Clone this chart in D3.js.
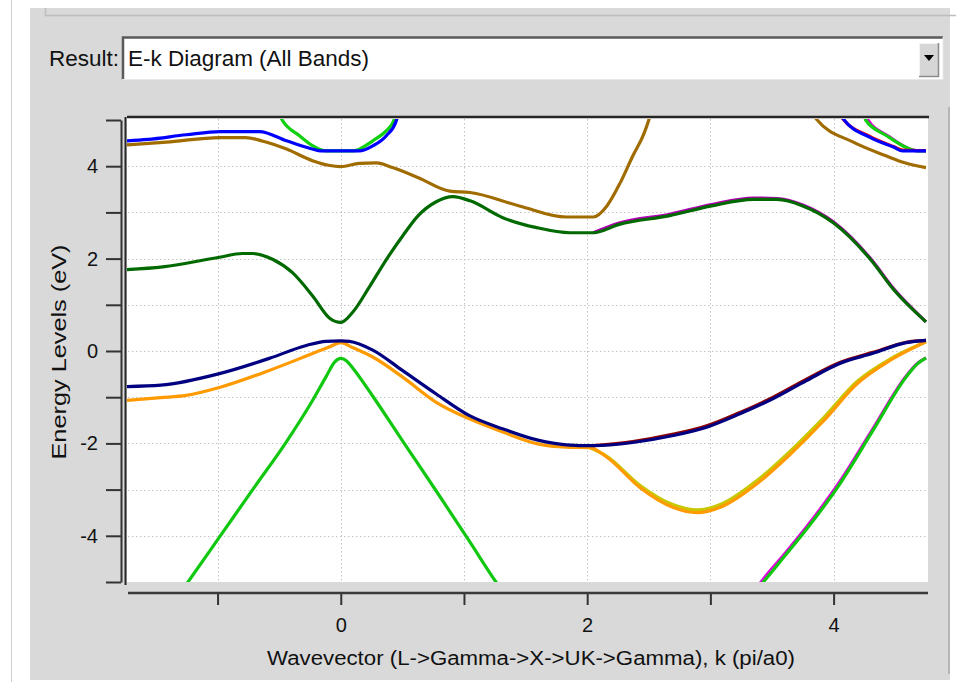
<!DOCTYPE html>
<html>
<head>
<meta charset="utf-8">
<script src="https://cdn.jsdelivr.net/npm/d3@7"></script>
<style>
  html, body { margin: 0; padding: 0; background: #ffffff; }
  svg { display: block; font-family: "Liberation Sans", Arial, sans-serif; }
</style>
</head>
<body>
<svg id="chart" width="956" height="682"></svg>
<script>
// ---- Band structure data: wavevector k (pi/a0) vs energy (eV) ----
// Path L -> Gamma -> X -> U/K -> Gamma
const kDomain = [-1.735, 4.75];
const eDomain = [-5, 5];

const xTickValues = [-1, 0, 1, 2, 3, 4];
const xTickLabels = {0: "0", 2: "2", 4: "4"};
const yTickValues = [-5, -4, -3, -2, -1, 0, 1, 2, 3, 4, 5];
const yTickLabels = {"-4": "-4", "-2": "-2", 0: "0", 2: "2", 4: "4"};
const xGrid = [-1, 0, 1, 2, 3, 4];
const yGrid = [-4, -3, -2, -1, 0, 1, 2, 3, 4];

// lowest valence band (two branches)
const valenceLowLeft = [[-1.32,-5.3],[-1.24,-5.0],[-0.985,-4.03],[-0.715,-3.0],[-0.44,-1.96],[-0.24,-1.12],[-0.12,-0.56],[-0.05,-0.24],[0,-0.16],[0.05,-0.22],[0.1,-0.38],[0.26,-0.98],[0.5,-1.94],[0.775,-3.03],[1.045,-4.12],[1.26,-5.0],[1.34,-5.3]];
const valenceLowRight = [[3.365,-5.2],[3.43,-5.0],[3.60,-4.45],[3.78,-3.86],[4.05,-2.88],[4.32,-1.72],[4.59,-0.56],[4.68,-0.28],[4.75,-0.15]];
const valenceLowRightPair = [[3.355,-5.2],[3.42,-4.97],[3.60,-4.40],[3.78,-3.81],[4.05,-2.83],[4.32,-1.68],[4.59,-0.54],[4.68,-0.27],[4.75,-0.15]];

// split-off / light valence band
const valenceMid = [[-1.735,-1.07],[-1.46,-1.01],[-1.255,-0.96],[-0.985,-0.79],[-0.58,-0.42],[-0.28,-0.11],[-0.1,0.08],[0,0.18],[0.1,0.07],[0.26,-0.13],[0.5,-0.56],[0.775,-1.11],[1.045,-1.47],[1.32,-1.76],[1.6,-2.01],[1.83,-2.08],[2.02,-2.09],[2.16,-2.30],[2.43,-2.96],[2.70,-3.39],[2.89,-3.50],[3.10,-3.36],[3.375,-2.88],[3.65,-2.23],[3.92,-1.51],[4.19,-0.71],[4.46,-0.20],[4.75,0.20]];
const valenceMidPair = [[2.02,-2.09],[2.16,-2.28],[2.43,-2.91],[2.70,-3.33],[2.89,-3.44],[3.10,-3.30],[3.375,-2.81],[3.65,-2.16],[3.92,-1.44],[4.19,-0.66],[4.46,-0.17],[4.75,0.20]];

// top valence band
const valenceTop = [[-1.735,-0.77],[-1.46,-0.74],[-0.985,-0.49],[-0.58,-0.16],[-0.28,0.12],[-0.12,0.21],[0,0.22],[0.07,0.21],[0.26,0.02],[0.5,-0.42],[0.775,-0.93],[1.045,-1.40],[1.32,-1.69],[1.6,-1.93],[1.83,-2.03],[2.05,-2.05],[2.37,-1.98],[2.70,-1.83],[2.97,-1.65],[3.24,-1.36],[3.51,-1.03],[3.78,-0.64],[4.05,-0.27],[4.32,-0.05],[4.59,0.18],[4.75,0.23]];
const valenceTopPair = [[2.05,-2.05],[2.37,-1.96],[2.70,-1.80],[2.97,-1.62],[3.24,-1.33],[3.51,-1.00],[3.78,-0.61],[4.05,-0.25],[4.32,-0.03],[4.59,0.19],[4.75,0.23]];

// lowest conduction band
const conductionLow = [[-1.735,1.76],[-1.445,1.82],[-0.985,2.03],[-0.8,2.11],[-0.715,2.11],[-0.55,1.98],[-0.39,1.69],[-0.225,1.18],[-0.09,0.71],[0,0.62],[0.1,0.85],[0.235,1.40],[0.37,1.98],[0.505,2.50],[0.625,2.92],[0.775,3.23],[0.91,3.34],[1.05,3.25],[1.32,2.88],[1.59,2.67],[1.86,2.56],[2.05,2.56],[2.26,2.74],[2.67,2.93],[3.01,3.14],[3.35,3.28],[3.54,3.28],[3.75,3.14],[4.0,2.77],[4.30,1.98],[4.49,1.32],[4.75,0.63]];
const conductionLowPair = [[2.05,2.56],[2.26,2.77],[2.67,2.96],[3.01,3.17],[3.35,3.31],[3.54,3.30],[3.75,3.16],[4.0,2.79],[4.30,2.0],[4.49,1.34],[4.75,0.63]];

// second conduction band
const conductionMidLeft = [[-1.735,4.46],[-1.415,4.52],[-0.98,4.62],[-0.77,4.62],[-0.63,4.54],[-0.44,4.37],[-0.23,4.12],[-0.1,4.02],[0,3.99],[0.15,4.06],[0.29,4.07],[0.42,3.97],[0.63,3.75],[0.885,3.46],[1.05,3.43],[1.45,3.14],[1.83,2.90],[2.05,2.90],[2.16,3.14],[2.27,3.65],[2.37,4.22],[2.46,4.70],[2.50,5.0],[2.53,5.3]];
const conductionMidRight = [[3.83,5.3],[3.86,5.02],[4.16,4.52],[4.43,4.22],[4.57,4.08],[4.75,3.97]];

// higher conduction bands
const conductionHighLeft = [[-1.735,4.55],[-1.567,4.58],[-1.255,4.68],[-0.98,4.75],[-0.66,4.75],[-0.44,4.55],[-0.28,4.41],[-0.15,4.33],[0.15,4.33],[0.26,4.44],[0.37,4.66],[0.45,4.98],[0.48,5.3]];
const conductionHighRight = [[4.05,5.3],[4.08,5.02],[4.30,4.62],[4.49,4.41],[4.56,4.33],[4.75,4.33]];
const conductionHighRightPair = [[4.04,5.3],[4.07,5.04],[4.29,4.65],[4.48,4.43],[4.56,4.35],[4.75,4.34]];
const conductionUpperLeft = [[-0.50,5.3],[-0.48,5.02],[-0.335,4.66],[-0.225,4.44],[-0.12,4.33],[0.1,4.33],[0.26,4.55],[0.37,4.77],[0.43,4.98],[0.46,5.3]];
const conductionUpperRight = [[4.24,5.3],[4.26,5.0],[4.43,4.66],[4.62,4.37],[4.68,4.33],[4.75,4.33]];
const conductionUpperRightPair = [[4.25,5.3],[4.28,5.0],[4.45,4.64],[4.63,4.36],[4.68,4.33],[4.75,4.33]];

// draw order (later ones sit on top) and colours
const bandSeries = [
  { data: valenceLowRightPair,      color: "#e000e0" },
  { data: valenceLowLeft,           color: "#10c810" },
  { data: valenceLowRight,          color: "#10c810" },
  { data: valenceMidPair,           color: "#c8c800" },
  { data: valenceMid,               color: "#ff9a00" },
  { data: valenceTopPair,           color: "#900000" },
  { data: valenceTop,               color: "#000080" },
  { data: conductionLowPair,        color: "#b000b0" },
  { data: conductionLow,            color: "#006a00" },
  { data: conductionMidLeft,        color: "#a06c00" },
  { data: conductionMidRight,       color: "#a06c00" },
  { data: conductionUpperLeft,      color: "#10d010" },
  { data: conductionUpperRightPair, color: "#e000e0" },
  { data: conductionUpperRight,     color: "#10d010" },
  { data: conductionHighRightPair,  color: "#ff0000" },
  { data: conductionHighLeft,       color: "#0000ff" },
  { data: conductionHighRight,      color: "#0000ff" }
];

const svg = d3.select("#chart");

// ---- window panel ----
svg.append("rect").attr("x", 0).attr("y", 0).attr("width", 956).attr("height", 682).attr("fill", "#ffffff");
svg.append("line").attr("x1", 11.5).attr("x2", 11.5).attr("y1", 0).attr("y2", 682).attr("stroke", "#d0d0d0").attr("stroke-width", 1);
svg.append("rect").attr("x", 30).attr("y", 8).attr("width", 920).attr("height", 672).attr("fill", "#d9d9d9");
svg.append("path").attr("d", "M45.5,8 V15.5 H956").attr("fill", "none").attr("stroke", "#bdbdbd").attr("stroke-width", 1.5);
svg.append("line").attr("x1", 949).attr("x2", 949).attr("y1", 107).attr("y2", 674).attr("stroke", "#a8a8a8").attr("stroke-width", 1.5);

// ---- result selector ----
svg.append("text").attr("x", 49).attr("y", 66).attr("font-size", 22).attr("fill", "#111")
  .attr("textLength", 70).attr("lengthAdjust", "spacingAndGlyphs").text("Result:");
svg.append("rect").attr("x", 122).attr("y", 37).attr("width", 821).attr("height", 43).attr("fill", "#ffffff");
svg.append("path").attr("d", "M123,80 V37.5 H943").attr("fill", "none").attr("stroke", "#5a5a5a").attr("stroke-width", 2.5);
svg.append("path").attr("d", "M122,79.5 H943 V37").attr("fill", "none").attr("stroke", "#e8e8e8").attr("stroke-width", 1);
svg.append("text").attr("x", 128).attr("y", 66).attr("font-size", 22).attr("fill", "#111")
  .attr("textLength", 241).attr("lengthAdjust", "spacingAndGlyphs").text("E-k Diagram (All Bands)");
svg.append("rect").attr("x", 919).attr("y", 43).attr("width", 20).attr("height", 34).attr("fill", "#d6d6d6");
svg.append("path").attr("d", "M919.5,77 V43.5 H939").attr("fill", "none").attr("stroke", "#f4f4f4").attr("stroke-width", 1);
svg.append("path").attr("d", "M919,76.5 H938.5 V43").attr("fill", "none").attr("stroke", "#8a8a8a").attr("stroke-width", 1.5);
svg.append("path").attr("d", "M924,55 L934,55 L929,61 Z").attr("fill", "#000");

// ---- scales ----
const x = d3.scaleLinear().domain(kDomain).range([127, 926]);
const y = d3.scaleLinear().domain(eDomain).range([582, 120]);

// ---- plot area ----
svg.append("rect").attr("x", 127).attr("y", 118).attr("width", 801).attr("height", 464).attr("fill", "#ffffff");

const grid = svg.append("g").attr("stroke", "#c4c4c4").attr("stroke-width", 1).attr("stroke-dasharray", "1.5,2.5");
grid.selectAll("line.v").data(xGrid).join("line").attr("class", "v")
  .attr("x1", d => Math.round(x(d)) + 0.5).attr("x2", d => Math.round(x(d)) + 0.5)
  .attr("y1", 119).attr("y2", 582);
grid.selectAll("line.h").data(yGrid).join("line").attr("class", "h")
  .attr("x1", 128).attr("x2", 927)
  .attr("y1", d => Math.round(y(d)) + 0.5).attr("y2", d => Math.round(y(d)) + 0.5);

svg.append("clipPath").attr("id", "plotClip").append("rect")
  .attr("x", 127).attr("y", 119).attr("width", 801).attr("height", 463);

const line = d3.line().x(d => x(d[0])).y(d => y(d[1])).curve(d3.curveMonotoneX);
svg.append("g").attr("clip-path", "url(#plotClip)")
  .selectAll("path").data(bandSeries).join("path")
  .attr("d", d => line(d.data))
  .attr("fill", "none")
  .attr("stroke", d => d.color)
  .attr("stroke-width", 3.2)
  .attr("stroke-linejoin", "round");

// plot frame: top rule and left border
svg.append("line").attr("x1", 127).attr("x2", 929).attr("y1", 117).attr("y2", 117).attr("stroke", "#262626").attr("stroke-width", 2.5);
svg.append("line").attr("x1", 125.5).attr("x2", 125.5).attr("y1", 117).attr("y2", 585).attr("stroke", "#262626").attr("stroke-width", 2);

// ---- axes ----
const yAxis = d3.axisLeft(y).tickValues(yTickValues).tickSize(15).tickSizeOuter(0).tickPadding(8)
  .tickFormat(d => yTickLabels[d] !== undefined ? yTickLabels[d] : "");
const gy = svg.append("g").attr("transform", "translate(121,0)").call(yAxis);
gy.select(".domain").attr("stroke", "#333").attr("stroke-width", 2);
gy.selectAll(".tick line").attr("stroke", "#333").attr("stroke-width", 2);
gy.selectAll(".tick text").attr("font-size", 20).attr("fill", "#111")
  .attr("font-family", "'Liberation Sans', Arial, sans-serif");

const xAxis = d3.axisBottom(x).tickValues(xTickValues).tickSize(12).tickSizeOuter(0).tickPadding(13)
  .tickFormat(d => xTickLabels[d] !== undefined ? xTickLabels[d] : "");
const gx = svg.append("g").attr("transform", "translate(0,593)").call(xAxis);
gx.select(".domain").remove();
gx.selectAll(".tick line").attr("stroke", "#333").attr("stroke-width", 2);
gx.selectAll(".tick text").attr("font-size", 20).attr("fill", "#111")
  .attr("font-family", "'Liberation Sans', Arial, sans-serif");
gx.append("line").attr("x1", 128).attr("x2", 928).attr("y1", 0).attr("y2", 0)
  .attr("stroke", "#3a3a3a").attr("stroke-width", 2.5);

// ---- axis titles ----
svg.append("text").attr("x", 531).attr("y", 665).attr("text-anchor", "middle")
  .attr("font-size", 20).attr("fill", "#111")
  .attr("textLength", 528).attr("lengthAdjust", "spacingAndGlyphs")
  .text("Wavevector (L->Gamma->X->UK->Gamma), k (pi/a0)");
svg.append("text").attr("transform", "translate(66,352) rotate(-90)").attr("text-anchor", "middle")
  .attr("font-size", 21).attr("fill", "#111")
  .attr("textLength", 215).attr("lengthAdjust", "spacingAndGlyphs")
  .text("Energy Levels (eV)");
</script>
</body>
</html>
